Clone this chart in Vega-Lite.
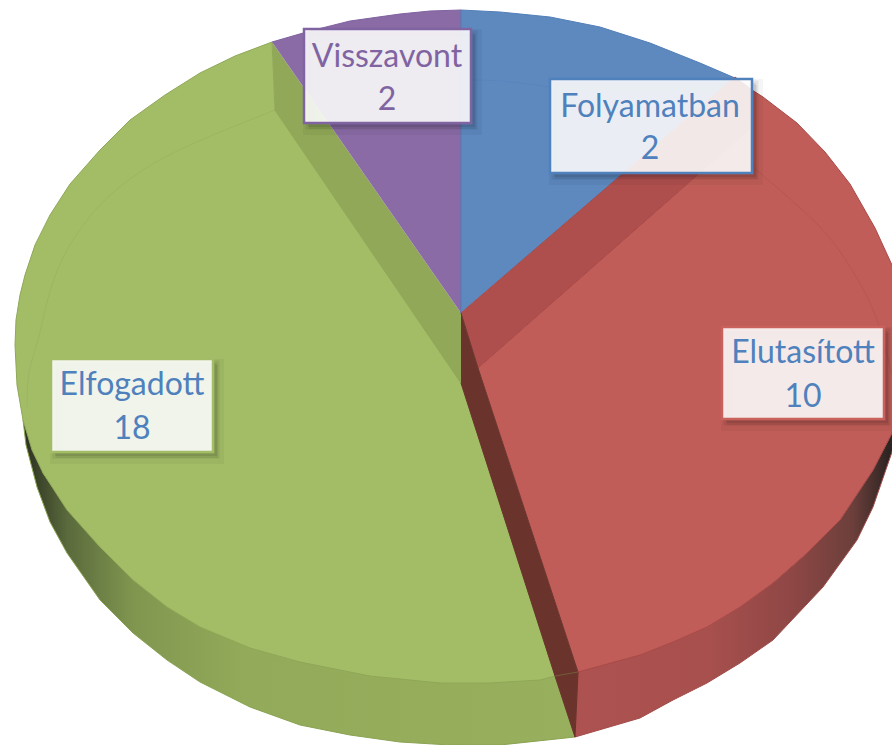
{"$schema":"https://vega.github.io/schema/vega-lite/v6.json","autosize":{"type":"fit","contains":"padding"},"width":892,"height":745,"padding":0,"background":"white","config":{"view":{"stroke":null}},
"datasets":{
"greenSide":[{"i":0,"x":23,"y":420},{"i":1,"x":26,"y":445},{"i":2,"x":37,"y":487},{"i":3,"x":50,"y":522},{"i":4,"x":67,"y":553},{"i":5,"x":100,"y":600},{"i":6,"x":133,"y":633},{"i":7,"x":167,"y":660},{"i":8,"x":200,"y":682},{"i":9,"x":250,"y":707},{"i":10,"x":300,"y":725},{"i":11,"x":350,"y":735},{"i":12,"x":400,"y":742},{"i":13,"x":450,"y":745},{"i":14,"x":500,"y":745},{"i":15,"x":575,"y":737},{"i":16,"x":555,"y":676},{"i":17,"x":440,"y":683},{"i":18,"x":300,"y":662},{"i":19,"x":200,"y":627},{"i":20,"x":100,"y":547},{"i":21,"x":43,"y":473}],
"redSide":[{"i":0,"x":902,"y":395},{"i":1,"x":899,"y":425},{"i":2,"x":892,"y":452},{"i":3,"x":873,"y":507},{"i":4,"x":857,"y":540},{"i":5,"x":823,"y":587},{"i":6,"x":773,"y":640},{"i":7,"x":740,"y":663},{"i":8,"x":707,"y":683},{"i":9,"x":673,"y":700},{"i":10,"x":640,"y":718},{"i":11,"x":575,"y":737},{"i":12,"x":578,"y":672},{"i":13,"x":640,"y":655},{"i":14,"x":673,"y":642},{"i":15,"x":707,"y":627},{"i":16,"x":740,"y":607},{"i":17,"x":773,"y":583},{"i":18,"x":807,"y":553},{"i":19,"x":840,"y":520},{"i":20,"x":873,"y":470},{"i":21,"x":892,"y":433}],
"greenFace":[{"i":0,"x":272,"y":42},{"i":1,"x":235,"y":56},{"i":2,"x":200,"y":73},{"i":3,"x":165,"y":95},{"i":4,"x":130,"y":120},{"i":5,"x":100,"y":150},{"i":6,"x":70,"y":184},{"i":7,"x":50,"y":215},{"i":8,"x":35,"y":245},{"i":9,"x":25,"y":275},{"i":10,"x":20,"y":295},{"i":11,"x":16,"y":320},{"i":12,"x":15,"y":345},{"i":13,"x":17,"y":385},{"i":14,"x":23,"y":420},{"i":15,"x":32,"y":450},{"i":16,"x":43,"y":473},{"i":17,"x":67,"y":510},{"i":18,"x":100,"y":547},{"i":19,"x":133,"y":580},{"i":20,"x":167,"y":607},{"i":21,"x":200,"y":627},{"i":22,"x":250,"y":648},{"i":23,"x":300,"y":662},{"i":24,"x":370,"y":676},{"i":25,"x":440,"y":683},{"i":26,"x":490,"y":683},{"i":27,"x":540,"y":680},{"i":28,"x":555,"y":676},{"i":29,"x":461,"y":383},{"i":30,"x":275,"y":110}],
"greenWall":[{"i":0,"x":272,"y":42},{"i":1,"x":275,"y":110},{"i":2,"x":461,"y":383},{"i":3,"x":461,"y":313}],
"purple":[{"i":0,"x":461,"y":313},{"i":1,"x":461,"y":10},{"i":2,"x":430,"y":11},{"i":3,"x":400,"y":14},{"i":4,"x":350,"y":21},{"i":5,"x":310,"y":31},{"i":6,"x":272,"y":42}],
"blue":[{"i":0,"x":461,"y":313},{"i":1,"x":461,"y":10},{"i":2,"x":500,"y":12},{"i":3,"x":550,"y":17},{"i":4,"x":600,"y":27},{"i":5,"x":650,"y":43},{"i":6,"x":700,"y":63},{"i":7,"x":735,"y":78}],
"redWall":[{"i":0,"x":461,"y":313},{"i":1,"x":735,"y":77},{"i":2,"x":752,"y":90},{"i":3,"x":752,"y":127},{"i":4,"x":478,"y":368}],
"redFace":[{"i":0,"x":478,"y":368},{"i":1,"x":752,"y":127},{"i":2,"x":752,"y":90},{"i":3,"x":763,"y":97},{"i":4,"x":797,"y":123},{"i":5,"x":825,"y":152},{"i":6,"x":850,"y":184},{"i":7,"x":875,"y":228},{"i":8,"x":892,"y":265},{"i":9,"x":900,"y":300},{"i":10,"x":905,"y":345},{"i":11,"x":902,"y":395},{"i":12,"x":892,"y":433},{"i":13,"x":873,"y":470},{"i":14,"x":840,"y":520},{"i":15,"x":807,"y":553},{"i":16,"x":773,"y":583},{"i":17,"x":740,"y":607},{"i":18,"x":707,"y":627},{"i":19,"x":673,"y":642},{"i":20,"x":640,"y":655},{"i":21,"x":578,"y":672}],
"brown":[{"i":0,"x":461,"y":313},{"i":1,"x":478,"y":368},{"i":2,"x":578,"y":672},{"i":3,"x":575,"y":737},{"i":4,"x":555,"y":676},{"i":5,"x":461,"y":383}],
"rings":[
{"ring":"green","i":0,"x":275,"y":110},{"ring":"green","i":1,"x":190,"y":145},{"ring":"green","i":2,"x":140,"y":172},{"ring":"green","i":3,"x":100,"y":205},{"ring":"green","i":4,"x":70,"y":245},{"ring":"green","i":5,"x":52,"y":285},{"ring":"green","i":6,"x":38,"y":340},{"ring":"green","i":7,"x":29,"y":373},{"ring":"green","i":8,"x":27,"y":407},
{"ring":"red","i":0,"x":753,"y":167},{"ring":"red","i":1,"x":820,"y":227},{"ring":"red","i":2,"x":855,"y":275},{"ring":"red","i":3,"x":877,"y":320},{"ring":"red","i":4,"x":892,"y":375},
{"ring":"blue","i":0,"x":461,"y":80},{"ring":"blue","i":1,"x":500,"y":81},{"ring":"blue","i":2,"x":550,"y":87},
{"ring":"edge","i":0,"x":555,"y":676},{"ring":"edge","i":1,"x":578,"y":672}],
"labels":[
{"name":"Visszavont","value":2,"cx":387,"y1":67,"y2":110,"left":304,"right":471,"top":29,"bottom":123},
{"name":"Folyamatban","value":2,"cx":650,"y1":117,"y2":159,"left":550,"right":752,"top":79,"bottom":173},
{"name":"Elutasított","value":10,"cx":803,"y1":363,"y2":407,"left":722,"right":884,"top":327,"bottom":419},
{"name":"Elfogadott","value":18,"cx":132,"y1":395,"y2":439,"left":51,"right":213,"top":359,"bottom":452}]
},
"encoding":{"x":{"field":"x","type":"quantitative","axis":null,"scale":{"domain":[0,892],"nice":false,"zero":false}},"y":{"field":"y","type":"quantitative","axis":null,"scale":{"domain":[745,0],"nice":false,"zero":false}},"order":{"field":"i","type":"quantitative"}},
"layer":[
{"data":{"name":"greenSide"},"mark":{"type":"line","clip":true,"strokeWidth":1,"stroke":"#8aa352","fill":{"gradient":"linear","x1":0,"y1":0,"x2":1,"y2":0,"stops":[{"offset":0,"color":"#2b2f20"},{"offset":0.08,"color":"#5a6a3c"},{"offset":0.2,"color":"#80964f"},{"offset":0.4,"color":"#93aa5a"},{"offset":1,"color":"#98af5d"}]}}},
{"data":{"name":"redSide"},"mark":{"type":"line","clip":true,"strokeWidth":1,"stroke":"#a34c4a","fill":{"gradient":"linear","x1":0,"y1":0,"x2":1,"y2":0,"stops":[{"offset":0,"color":"#ad5250"},{"offset":0.4,"color":"#a8504e"},{"offset":0.66,"color":"#8f4745"},{"offset":0.85,"color":"#6c3f3b"},{"offset":0.96,"color":"#2e2422"},{"offset":1,"color":"#2e2422"}]}}},
{"data":{"name":"greenFace"},"mark":{"type":"line","clip":true,"strokeWidth":1,"stroke":"#8fa858","fill":"#a3bd67"}},
{"data":{"name":"greenWall"},"mark":{"type":"line","clip":true,"strokeWidth":1,"stroke":"#90a858","fill":"#90a858"}},
{"data":{"name":"purple"},"mark":{"type":"line","clip":true,"strokeWidth":1,"stroke":"#7f62a0","fill":"#8a6ba5"}},
{"data":{"name":"blue"},"mark":{"type":"line","clip":true,"strokeWidth":1,"stroke":"#527fb8","fill":"#5d89bf"}},
{"data":{"name":"redWall"},"mark":{"type":"line","clip":true,"strokeWidth":1,"stroke":"#a54a49","fill":"#ae4f4e"}},
{"data":{"name":"redFace"},"mark":{"type":"line","clip":true,"strokeWidth":1,"stroke":"#a94a48","fill":"#c05d58"}},
{"data":{"name":"brown"},"mark":{"type":"line","clip":true,"strokeWidth":1,"stroke":"#6a332c","fill":"#6a332c"}},
{"data":{"name":"rings"},"mark":{"type":"line","clip":true,"strokeWidth":1,"opacity":0.4,"interpolate":"cardinal"},"encoding":{"detail":{"field":"ring"},"color":{"field":"ring","legend":null,"scale":{"domain":["green","red","blue","edge"],"range":["#8fa858","#a84b49","#527fb8","#7f9a48"]}}}},
{"data":{"name":"labels"},"mark":{"type":"rect","clip":true,"xOffset":5,"x2Offset":5,"yOffset":6,"y2Offset":6,"fill":"#000000","fillOpacity":0.05,"stroke":"#000000","strokeOpacity":0.04,"strokeWidth":12},"encoding":{"x":{"field":"left","type":"quantitative"},"x2":{"field":"right"},"y":{"field":"top","type":"quantitative"},"y2":{"field":"bottom"},"order":{"value":0}}},
{"data":{"name":"labels"},"mark":{"type":"rect","clip":true,"xOffset":4,"x2Offset":4,"yOffset":4,"y2Offset":4,"fill":"#000000","fillOpacity":0.08,"stroke":"#000000","strokeOpacity":0.07,"strokeWidth":5},"encoding":{"x":{"field":"left","type":"quantitative"},"x2":{"field":"right"},"y":{"field":"top","type":"quantitative"},"y2":{"field":"bottom"},"order":{"value":0}}},
{"data":{"name":"labels"},"mark":{"type":"rect","clip":true,"fill":"#ffffff","fillOpacity":0.88,"strokeWidth":2.5},"encoding":{"x":{"field":"left","type":"quantitative"},"x2":{"field":"right"},"y":{"field":"top","type":"quantitative"},"y2":{"field":"bottom"},"order":{"value":0},"stroke":{"field":"name","legend":null,"scale":{"domain":["Visszavont","Folyamatban","Elutasított","Elfogadott"],"range":["#8064a2","#4f81bd","#c9615d","#a3bd67"]}}}},
{"data":{"name":"labels"},"mark":{"type":"text","clip":true,"font":"Lato","fontSize":32,"baseline":"alphabetic","align":"center"},"encoding":{"x":{"field":"cx","type":"quantitative"},"y":{"field":"y1","type":"quantitative"},"order":{"value":0},"text":{"field":"name"},"color":{"field":"name","legend":null,"scale":{"domain":["Visszavont","Folyamatban","Elutasított","Elfogadott"],"range":["#8064a2","#4f81bd","#4f81bd","#4f81bd"]}}}},
{"data":{"name":"labels"},"mark":{"type":"text","clip":true,"font":"Lato","fontSize":32,"baseline":"alphabetic","align":"center"},"encoding":{"x":{"field":"cx","type":"quantitative"},"y":{"field":"y2","type":"quantitative"},"order":{"value":0},"text":{"field":"value","type":"quantitative"},"color":{"field":"name","legend":null,"scale":{"domain":["Visszavont","Folyamatban","Elutasított","Elfogadott"],"range":["#8064a2","#4f81bd","#4f81bd","#4f81bd"]}}}}
],
"resolve":{"scale":{"color":"independent"}}
}
